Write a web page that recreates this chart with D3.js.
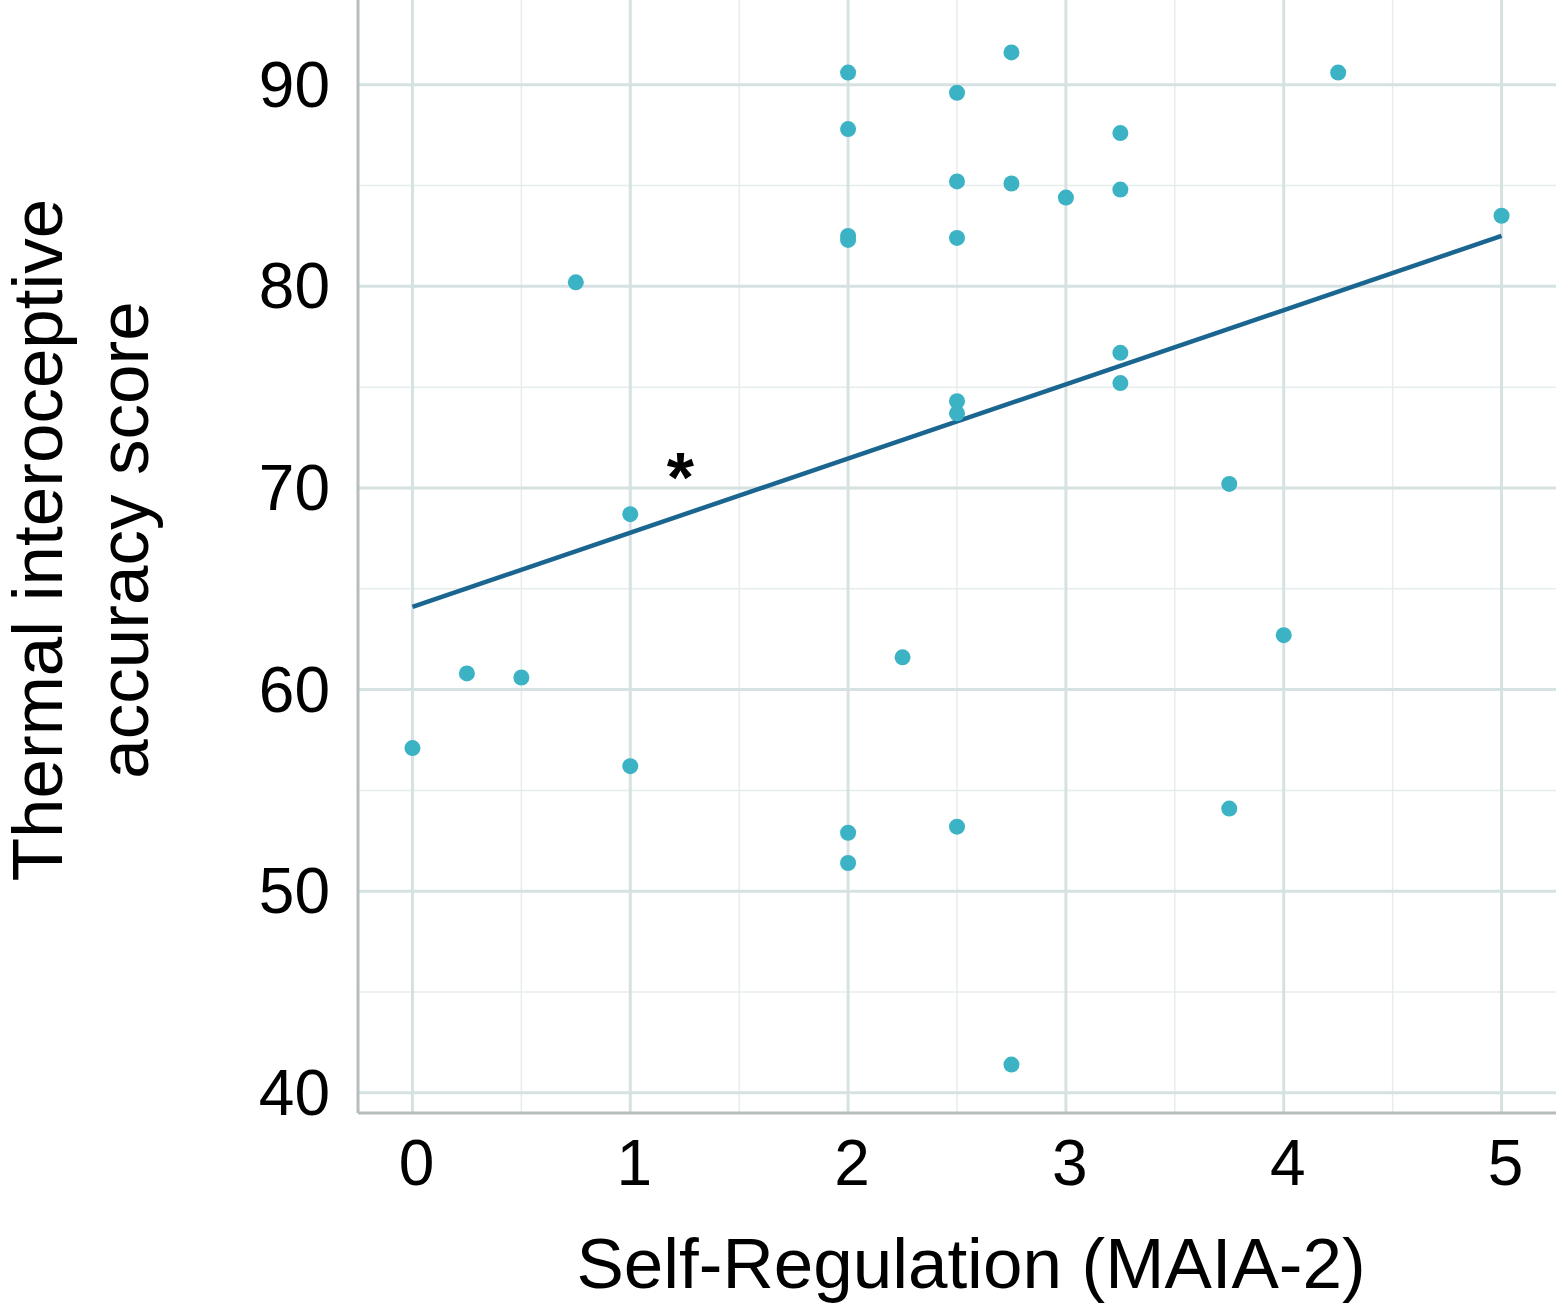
<!DOCTYPE html>
<html><head><meta charset="utf-8">
<script src="https://cdn.jsdelivr.net/npm/d3@7"></script>
<style>body{margin:0;background:#fff}text{font-family:"Liberation Sans",Arial,sans-serif}</style>
</head><body>
<svg id="chart" width="1568" height="1314"></svg>
<script>
// data
var xValues = [0,0.25,0.5,0.75,1,1,2,2,2,2,2,2,2.25,2.5,2.5,2.5,2.5,2.5,2.5,2.75,2.75,2.75,3,3.25,3.25,3.25,3.25,3.75,3.75,4,4.25,5];
var yValues = [57.1,60.8,60.6,80.2,68.7,56.2,90.6,87.8,82.5,82.3,52.9,51.4,61.6,89.6,85.2,82.4,74.3,73.7,53.2,91.6,85.1,41.4,84.4,87.6,84.8,76.7,75.2,70.2,54.1,62.7,90.6,83.5];
var fitX = [0, 5];
var fitY = [64.1, 82.5];
var xTicks = [0,1,2,3,4,5];
var yTicks = [40,50,60,70,80,90];

var svg = d3.select("#chart");
var x = d3.scaleLinear().domain([-0.25, 5.25]).range([358, 1556]);
var y = d3.scaleLinear().domain([39, 94.2]).range([1113, 0]);

// minor grid
svg.append("g").selectAll("line").data(d3.range(0.5, 5.01, 1)).enter().append("line")
  .attr("x1", d => x(d)).attr("x2", d => x(d)).attr("y1", 0).attr("y2", 1113)
  .attr("stroke", "#e6eded").attr("stroke-width", 1.5);
svg.append("g").selectAll("line").data(d3.range(45, 94, 10)).enter().append("line")
  .attr("y1", d => y(d)).attr("y2", d => y(d)).attr("x1", 358).attr("x2", 1556)
  .attr("stroke", "#e6eded").attr("stroke-width", 1.5);
// major grid
svg.append("g").selectAll("line").data(xTicks).enter().append("line")
  .attr("x1", d => x(d)).attr("x2", d => x(d)).attr("y1", 0).attr("y2", 1113)
  .attr("stroke", "#d6e2e2").attr("stroke-width", 3);
svg.append("g").selectAll("line").data(yTicks).enter().append("line")
  .attr("y1", d => y(d)).attr("y2", d => y(d)).attr("x1", 358).attr("x2", 1556)
  .attr("stroke", "#d6e2e2").attr("stroke-width", 3);

// axis lines
svg.append("line").attr("x1", 358).attr("x2", 358).attr("y1", 0).attr("y2", 1113).attr("stroke", "#b5bdbd").attr("stroke-width", 3);
svg.append("line").attr("x1", 358).attr("x2", 1556).attr("y1", 1113).attr("y2", 1113).attr("stroke", "#b5bdbd").attr("stroke-width", 3);

// tick labels
svg.append("g").selectAll("text").data(xTicks).enter().append("text")
  .attr("x", d => x(d) + 4).attr("y", 1185).attr("text-anchor", "middle")
  .attr("font-size", 64).text(d => d);
svg.append("g").selectAll("text").data(yTicks).enter().append("text")
  .attr("x", 330).attr("y", d => y(d) + 22).attr("text-anchor", "end")
  .attr("font-size", 64).text(d => d);

// fit line
svg.append("line").attr("x1", x(fitX[0])).attr("y1", y(fitY[0])).attr("x2", x(fitX[1])).attr("y2", y(fitY[1]))
  .attr("stroke", "#1b6690").attr("stroke-width", 4.5);

// points
svg.append("g").selectAll("circle").data(xValues).enter().append("circle")
  .attr("cx", d => x(d)).attr("cy", (d, i) => y(yValues[i])).attr("r", 8)
  .attr("fill", "#3cb3c5");

svg.append("text").attr("x", x(1.23)).attr("y", y(69.3)).attr("text-anchor", "middle")
  .attr("font-size", 70).attr("font-weight", "bold").text("*");

// axis titles
svg.append("text").attr("x", 971).attr("y", 1288).attr("text-anchor", "middle").attr("font-size", 71)
  .text("Self-Regulation (MAIA-2)");
var yl = svg.append("text").attr("transform", "translate(62,540) rotate(-90)").attr("text-anchor", "middle").attr("font-size", 71);
yl.append("tspan").attr("x", 0).attr("dy", 0).text("Thermal interoceptive");
yl.append("tspan").attr("x", 0).attr("dy", 86).text("accuracy score");
</script>
</body></html>
